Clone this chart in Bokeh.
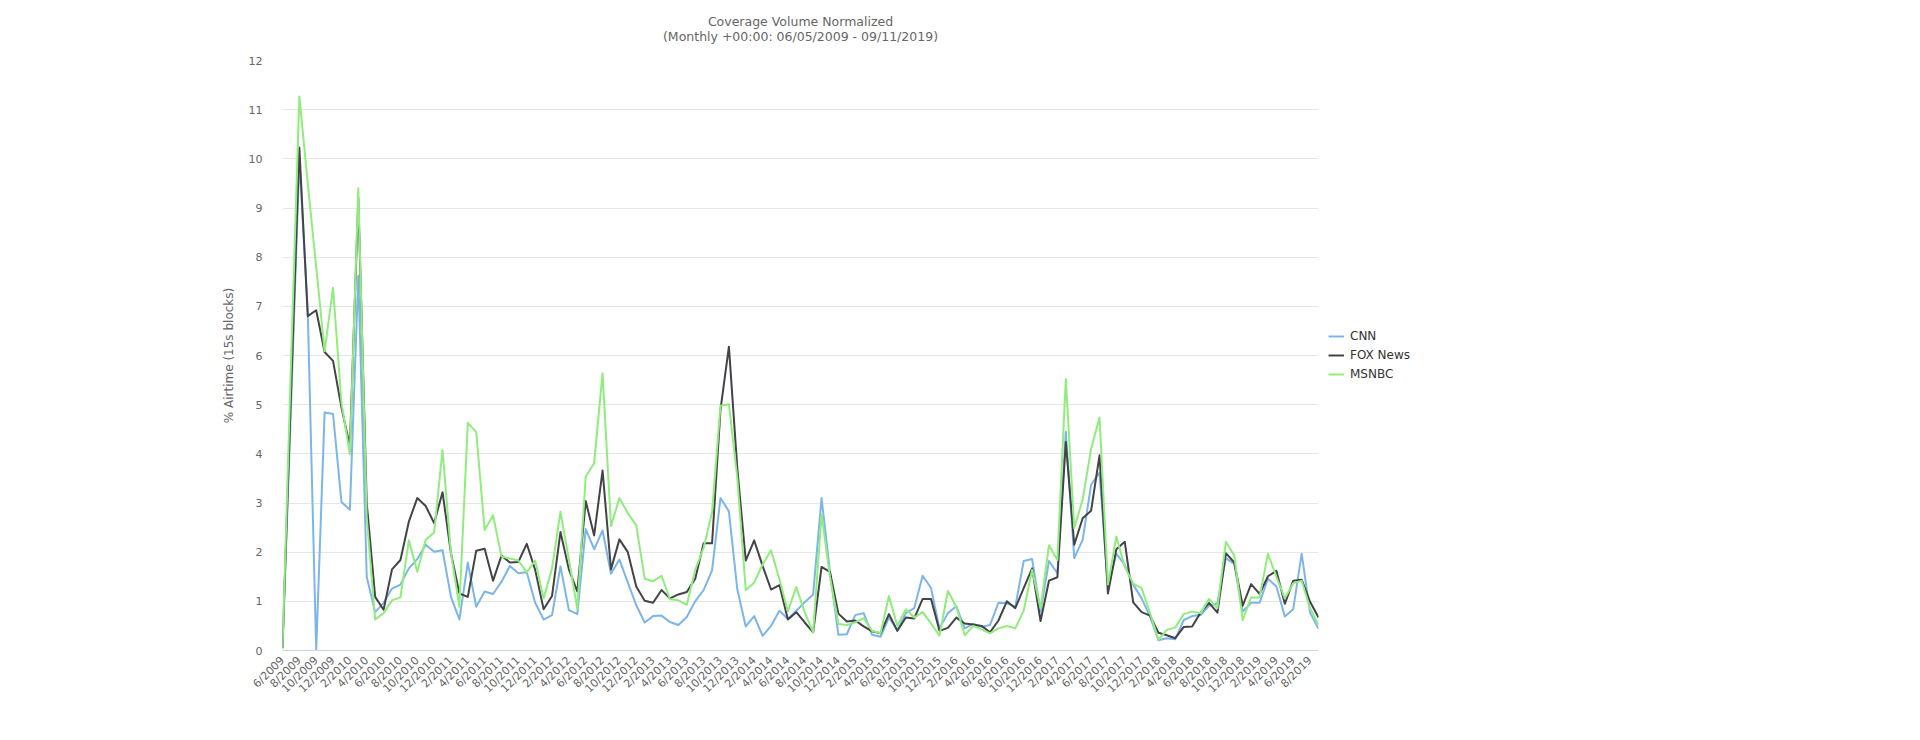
import math
from bokeh.plotting import figure
from bokeh.models import ColumnDataSource, Range1d, FixedTicker, Legend, LegendItem, Title
from bokeh.embed import file_html
from bokeh.resources import INLINE

# Month categories 6/2009 .. 9/2019
months = [f"{(5 + i) % 12 + 1}/{2009 + (5 + i) // 12}" for i in range(124)]

cnn = [0.05, 4.9, 10.0, 6.9, 0.0, 4.84, 4.81, 3.02, 2.86, 7.62,
       1.50, 0.78, 0.97, 1.26, 1.34, 1.67, 1.86, 2.15, 2.01, 2.04,
       1.09, 0.63, 1.79, 0.89, 1.20, 1.15, 1.40, 1.72, 1.57, 1.59,
       0.97, 0.63, 0.72, 1.71, 0.82, 0.74, 2.47, 2.06, 2.44, 1.56,
       1.85, 1.38, 0.92, 0.57, 0.70, 0.71, 0.58, 0.52, 0.68, 1.00,
       1.23, 1.63, 3.10, 2.83, 1.24, 0.49, 0.70, 0.30, 0.50, 0.81,
       0.64, 0.81, 0.98, 1.14, 3.10, 1.60, 0.32, 0.33, 0.72, 0.76,
       0.32, 0.28, 0.67, 0.41, 0.76, 0.86, 1.52, 1.27, 0.45, 0.76,
       0.90, 0.45, 0.54, 0.48, 0.52, 0.97, 0.96, 0.89, 1.82, 1.86,
       0.79, 1.82, 1.57, 4.45, 1.88, 2.25, 3.37, 3.62, 1.30, 1.97,
       1.74, 1.34, 1.06, 0.69, 0.21, 0.25, 0.23, 0.62, 0.70, 0.72,
       0.91, 0.96, 1.88, 1.76, 0.79, 0.97, 0.97, 1.46, 1.30, 0.69,
       0.84, 1.97, 0.77, 0.44]

fox = [0.05, 5.2, 10.23, 6.80, 6.92, 6.07, 5.89, 4.94, 4.16, 9.2,
       3.0, 1.09, 0.83, 1.65, 1.84, 2.62, 3.10, 2.94, 2.59, 3.22,
       1.98, 1.16, 1.09, 2.03, 2.07, 1.42, 1.93, 1.79, 1.80, 2.17,
       1.64, 0.84, 1.11, 2.41, 1.65, 1.20, 3.04, 2.34, 3.66, 1.65,
       2.26, 2.00, 1.30, 1.01, 0.97, 1.23, 1.06, 1.14, 1.19, 1.46,
       2.18, 2.18, 4.9, 6.18, 3.7, 1.83, 2.24, 1.72, 1.24, 1.33,
       0.63, 0.78, 0.57, 0.37, 1.70, 1.60, 0.75, 0.59, 0.61, 0.49,
       0.39, 0.35, 0.74, 0.40, 0.67, 0.65, 1.05, 1.05, 0.40, 0.46,
       0.67, 0.55, 0.53, 0.50, 0.37, 0.61, 1.00, 0.86, 1.27, 1.67,
       0.60, 1.42, 1.49, 4.24, 2.15, 2.69, 2.84, 3.97, 1.16, 2.06,
       2.21, 0.98, 0.78, 0.71, 0.36, 0.31, 0.25, 0.48, 0.49, 0.77,
       0.97, 0.77, 1.98, 1.79, 0.91, 1.35, 1.15, 1.51, 1.62, 0.95,
       1.42, 1.44, 0.99, 0.67]

msnbc = [0.02, 5.8, 11.27, 9.5, 7.8, 6.09, 7.38, 5.04, 3.99, 9.40,
         2.7, 0.63, 0.76, 1.02, 1.08, 2.24, 1.60, 2.25, 2.40, 4.08,
         1.98, 0.89, 4.63, 4.44, 2.45, 2.75, 1.91, 1.87, 1.83, 1.59,
         1.83, 1.06, 1.67, 2.82, 1.85, 0.85, 3.54, 3.81, 5.64, 2.53,
         3.10, 2.79, 2.55, 1.46, 1.41, 1.52, 1.04, 1.02, 0.93, 1.64,
         2.09, 2.81, 4.98, 5.01, 3.5, 1.23, 1.38, 1.75, 2.04, 1.45,
         0.80, 1.29, 0.78, 0.37, 2.77, 1.5, 0.54, 0.52, 0.57, 0.66,
         0.40, 0.35, 1.11, 0.50, 0.84, 0.67, 0.78, 0.55, 0.30, 1.21,
         0.89, 0.31, 0.50, 0.43, 0.35, 0.45, 0.50, 0.45, 0.81, 1.64,
         0.86, 2.14, 1.84, 5.52, 2.49, 3.07, 4.10, 4.74, 1.34, 2.32,
         1.70, 1.36, 1.27, 0.76, 0.22, 0.42, 0.47, 0.74, 0.79, 0.76,
         1.05, 0.86, 2.21, 1.93, 0.62, 1.08, 1.08, 1.97, 1.5, 1.06,
         1.37, 1.42, 0.86, 0.52]

series_names = ["CNN", "FOX News", "MSNBC"]
series_colors = ["#7cb5ec", "#434348", "#90ed7d"]
y_ticks = list(range(0, 13))
title_text = "Coverage Volume Normalized"
subtitle_text = "(Monthly +00:00: 06/05/2009 - 09/11/2019)"

FONT = "DejaVu Sans"
TXT = "#666666"

x = list(range(len(months)))
src = ColumnDataSource(dict(x=x, cnn=cnn, fox=fox, msnbc=msnbc))

p = figure(width=1904, height=724, output_backend="svg", toolbar_location=None,
           x_range=Range1d(0, len(months) - 1), y_range=Range1d(0, 12),
           min_border_left=282, min_border_right=288, min_border_top=60,
           min_border_bottom=74)
p.outline_line_color = None
p.background_fill_color = "white"
p.border_fill_color = "white"

# Titles (first added sits closest to the plot)
p.add_layout(Title(text=subtitle_text, align="center",
                   text_font=FONT, text_font_size="12.5px", text_font_style="normal",
                   text_color=TXT, standoff=33), "above")
p.add_layout(Title(text=title_text, align="center",
                   text_font=FONT, text_font_size="12.5px", text_font_style="normal",
                   text_color=TXT, standoff=-36), "above")

renderers = []
for col, color in zip(["cnn", "fox", "msnbc"], series_colors):
    r = p.line("x", col, source=src, line_color=color, line_width=2, line_join="round")
    renderers.append(r)

legend = Legend(items=[LegendItem(label=n, renderers=[r]) for n, r in zip(series_names, renderers)],
                location="center_left", orientation="vertical",
                label_text_font=FONT, label_text_font_size="12px", label_text_color="#333333",
                glyph_width=16, glyph_height=16, label_height=16, spacing=3,
                label_standoff=6, border_line_color=None, background_fill_alpha=0,
                margin=10, padding=15)
p.add_layout(legend, "right")

# X axis
xa = p.xaxis[0]
xa.ticker = FixedTicker(ticks=list(range(0, len(months), 2)))
xa.major_label_overrides = {i: months[i] for i in range(0, len(months), 2)}
xa.major_label_orientation = math.pi / 4
xa.axis_line_color = "#ccd6eb"
xa.axis_line_width = 1
xa.major_tick_line_color = None
xa.minor_tick_line_color = None
xa.major_tick_out = 0
xa.major_tick_in = 0
xa.major_label_standoff = 8
xa.major_label_text_font = FONT
xa.major_label_text_font_size = "11px"
xa.major_label_text_color = TXT

# Y axis
ya = p.yaxis[0]
ya.ticker = FixedTicker(ticks=y_ticks)
ya.axis_line_color = None
ya.major_tick_line_color = None
ya.minor_tick_line_color = None
ya.major_tick_out = 0
ya.major_tick_in = 0
ya.major_label_standoff = 20
ya.major_label_text_font = FONT
ya.major_label_text_font_size = "11px"
ya.major_label_text_color = TXT
ya.axis_label = "% Airtime (15s blocks)"
ya.axis_label_text_font = FONT
ya.axis_label_text_font_size = "12px"
ya.axis_label_text_font_style = "normal"
ya.axis_label_text_color = TXT
ya.axis_label_standoff = 10

p.xgrid.grid_line_color = None
p.ygrid.ticker = FixedTicker(ticks=y_ticks)
p.ygrid.grid_line_color = "#e6e6e6"
p.ygrid.grid_line_width = 1

open("out.html", "w").write(file_html(p, INLINE))
